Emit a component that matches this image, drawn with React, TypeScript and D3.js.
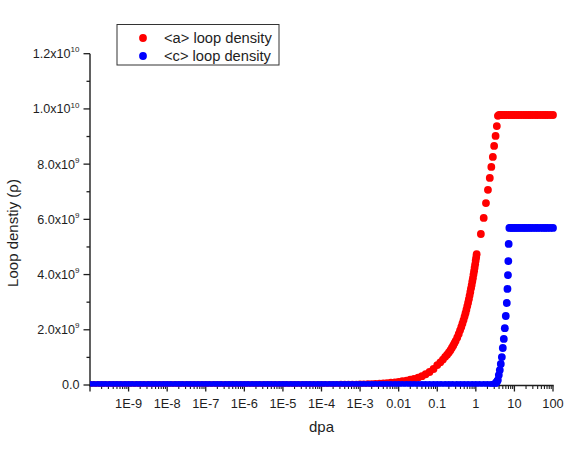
import React from 'react';
import * as d3 from 'd3';

// shared low-dose sweep (dpa), 1e-10 .. 0.08
const sweepDpa = [
  1e-10, 1.25e-10, 1.6e-10, 2e-10, 2.5e-10, 3.2e-10, 4e-10, 5e-10, 6.3e-10, 8e-10,
  1e-9, 1.25e-9, 1.6e-9, 2e-9, 2.5e-9, 3.2e-9, 4e-9, 5e-9, 6.3e-9, 8e-9,
  1e-8, 1.25e-8, 1.6e-8, 2e-8, 2.5e-8, 3.2e-8, 4e-8, 5e-8, 6.3e-8, 8e-8,
  1e-7, 1.25e-7, 1.6e-7, 2e-7, 2.5e-7, 3.2e-7, 4e-7, 5e-7, 6.3e-7, 8e-7,
  1e-6, 1.25e-6, 1.6e-6, 2e-6, 2.5e-6, 3.2e-6, 4e-6, 5e-6, 6.3e-6, 8e-6,
  1e-5, 1.25e-5, 1.6e-5, 2e-5, 2.5e-5, 3.2e-5, 4e-5, 5e-5, 6.3e-5, 8e-5,
  1e-4, 1.25e-4, 1.6e-4, 2e-4, 2.5e-4, 3.2e-4, 4e-4, 5e-4, 6.3e-4, 8e-4,
  1e-3, 1.25e-3, 1.6e-3, 2e-3, 2.5e-3, 3.2e-3, 4e-3, 5e-3, 6.3e-3, 8e-3,
  0.01, 0.0125, 0.016, 0.02, 0.025, 0.032, 0.04, 0.05, 0.063, 0.08,
];

// <a> loop density, units of 1e9
const aSweepDensity = [
  0, 0, 0, 0, 0, 0, 0, 0, 0, 0,
  0, 0, 0, 0, 0, 0, 0, 0, 0, 0,
  0, 0, 0, 0, 0, 0, 0, 0, 0, 0,
  0, 0, 0, 0, 0, 0, 0, 0, 0, 0,
  0, 0, 0, 0, 0, 0, 0, 0, 0, 0,
  0, 0, 0, 0, 0, 0, 0, 0, 0, 0,
  0.003, 0.004, 0.005, 0.006, 0.007, 0.009, 0.011, 0.013, 0.015, 0.017,
  0.02, 0.024, 0.029, 0.034, 0.04, 0.048, 0.057, 0.068, 0.082, 0.098,
  0.115, 0.135, 0.16, 0.19, 0.225, 0.27, 0.32, 0.39, 0.47, 0.58,
];
const aTailDpa = [
  0.1, 0.12, 0.14, 0.16, 0.18, 0.2, 0.22, 0.24, 0.26, 0.28, 0.3, 0.33,
  0.36, 0.39, 0.42, 0.45, 0.48, 0.51, 0.54, 0.57, 0.6, 0.63, 0.66, 0.69,
  0.72, 0.75, 0.78, 0.81, 0.84, 0.87, 0.9, 0.93, 0.96, 0.99, 1.02, 1.05,
  1.35, 1.6, 1.83, 2.06, 2.3, 2.52, 2.76, 2.98, 3.25, 3.5, 3.74,
  4.0, 4.4, 4.9, 5.5, 6.2, 7, 8, 9, 10, 11.5, 13, 15, 17.5, 20, 23, 26, 30,
  35, 40, 47, 55, 63, 72, 85, 100,
];
const aTailDensity = [
  0.72, 0.82, 0.92, 1.02, 1.1, 1.18, 1.26, 1.35, 1.43, 1.52, 1.6, 1.72,
  1.85, 1.98, 2.1, 2.23, 2.35, 2.48, 2.6, 2.73, 2.86, 2.98, 3.11, 3.24,
  3.37, 3.5, 3.62, 3.75, 3.87, 4.0, 4.12, 4.25, 4.37, 4.5, 4.62, 4.74,
  5.47, 6.05, 6.59, 7.07, 7.5, 7.9, 8.26, 8.66, 9.02, 9.38, 9.75,
  9.78, 9.78, 9.78, 9.78, 9.78, 9.78, 9.78, 9.78, 9.78, 9.78, 9.78, 9.78, 9.78,
  9.78, 9.78, 9.78, 9.78, 9.78, 9.78, 9.78, 9.78, 9.78, 9.78, 9.78, 9.78,
];

// <c> loop density, units of 1e9
const cSweepDensity = [
  0, 0, 0, 0, 0, 0, 0, 0, 0, 0,
  0, 0, 0, 0, 0, 0, 0, 0, 0, 0,
  0, 0, 0, 0, 0, 0, 0, 0, 0, 0,
  0, 0, 0, 0, 0, 0, 0, 0, 0, 0,
  0, 0, 0, 0, 0, 0, 0, 0, 0, 0,
  0, 0, 0, 0, 0, 0, 0, 0, 0, 0,
  0, 0, 0, 0, 0, 0, 0, 0, 0, 0,
  0, 0, 0, 0, 0, 0, 0, 0, 0, 0,
  0, 0, 0, 0, 0, 0, 0, 0, 0, 0,
];
const cTailDpa = [
  0.1, 0.125, 0.16, 0.2, 0.25, 0.32, 0.4, 0.5, 0.63, 0.8,
  1, 1.25, 1.6, 2, 2.5, 2.8,
  3.0, 3.2, 3.4, 3.55, 3.72, 3.94, 4.18, 4.44, 4.72, 5.0, 5.31, 5.64, 5.98,
  6.35, 6.6, 6.8, 6.95, 7.1,
  7.4, 8, 9, 10, 11, 12.5, 14, 16, 18, 20, 23, 26, 30, 35, 40, 47, 55, 63,
  72, 85, 100,
];
const cTailDensity = [
  0, 0, 0, 0, 0, 0, 0, 0, 0, 0,
  0, 0, 0, 0, 0, 0,
  0.02, 0.05, 0.09, 0.13, 0.18, 0.36, 0.54, 0.76, 1.01, 1.34, 1.67, 2.06, 2.5,
  2.97, 3.48, 3.98, 4.49, 5.11,
  5.69, 5.69, 5.69, 5.69, 5.69, 5.69, 5.69, 5.69, 5.69, 5.69, 5.69, 5.69, 5.69,
  5.69, 5.69, 5.69, 5.69, 5.69, 5.69, 5.69, 5.69,
];

const xTickValues = [1e-9, 1e-8, 1e-7, 1e-6, 1e-5, 1e-4, 1e-3, 0.01, 0.1, 1, 10, 100];
const xTickLabels = ['1E-9', '1E-8', '1E-7', '1E-6', '1E-5', '1E-4', '1E-3', '0.01', '0.1', '1', '10', '100'];
const yTickValues = [0, 2, 4, 6, 8, 10, 12];
const yTickLabels = ['0.0', '2.0x10', '4.0x10', '6.0x10', '8.0x10', '1.0x10', '1.2x10'];
const yTickExps = ['', '9', '9', '9', '9', '10', '10'];
const seriesNames = ['<a> loop density', '<c> loop density'];
const seriesColors = ['#ff0000', '#0000ff'];

const zip = (xs: number[], ys: number[]) =>
  xs.slice(0, Math.min(xs.length, ys.length)).map((d, i) => [d, ys[i]]);

const FONT = '"Liberation Sans", Arial, sans-serif';
const INK = '#1e1e1e';

export default function App() {
  const x = d3.scaleLog().domain([1e-10, 100]).range([90, 553]);
  const y = d3.scaleLinear().domain([0, 12]).range([385, 53.7]);

  const red = zip([...sweepDpa, ...aTailDpa], [...aSweepDensity, ...aTailDensity]);
  const blue = zip([...sweepDpa, ...cTailDpa], [...cSweepDensity, ...cTailDensity]);

  const decades = d3.range(-10, 2).map((e) => Math.pow(10, e));
  const xMinor = decades.flatMap((d) => d3.range(2, 10).map((k) => k * d));
  const yMinor = [1, 3, 5, 7, 9, 11];
  const y0 = y(0) + 0.5;
  const r = 3.9;

  return (
    <svg width={569} height={450} style={{ position: 'absolute', left: 0, top: 0, background: '#fff' }}
      fontFamily={FONT}>
      <defs>
        <clipPath id="plotClip">
          <rect x={90} y={0} width={479} height={y0 + 1} />
        </clipPath>
      </defs>

      {/* y axis */}
      <line x1={90} x2={90} y1={y(12)} y2={y0 + 0.7} stroke={INK} strokeWidth={1.4} />
      {yTickValues.map((v) => (
        <line key={'ym' + v} x1={83.5} x2={90} y1={y(v)} y2={y(v)} stroke={INK} strokeWidth={1.3} />
      ))}
      {yMinor.map((v) => (
        <line key={'yn' + v} x1={86.5} x2={90} y1={y(v)} y2={y(v)} stroke={INK} strokeWidth={1.3} />
      ))}
      {yTickValues.map((v, i) => (
        <text key={'yl' + v} x={79.5} y={y(v) + 4.4} textAnchor="end" fontSize={12.6} fill={INK}>
          {yTickLabels[i]}
          {yTickExps[i] && <tspan fontSize={8} dy={-5.8}>{yTickExps[i]}</tspan>}
        </text>
      ))}
      <text transform={`translate(17.5,233) rotate(-90)`} textAnchor="middle" fontSize={15} fill={INK}>
        Loop denstiy (ρ)
      </text>

      {/* x axis */}
      <line x1={89.3} x2={553.7} y1={y0} y2={y0} stroke={INK} strokeWidth={1.4} />
      {[1e-10, ...xTickValues].map((v) => (
        <line key={'xm' + v} x1={x(v)} x2={x(v)} y1={y0} y2={y0 + 6} stroke={INK} strokeWidth={1.3} />
      ))}
      {xMinor.map((v) => (
        <line key={'xn' + v} x1={x(v)} x2={x(v)} y1={y0} y2={y0 + 3.5} stroke={INK} strokeWidth={1.1} />
      ))}
      {xTickValues.map((v, i) => (
        <text key={'xl' + v} x={x(v)} y={407.5} textAnchor="middle" fontSize={12.8} fill={INK}>
          {xTickLabels[i]}
        </text>
      ))}
      <text x={321.5} y={432} textAnchor="middle" fontSize={15} fill={INK}>dpa</text>

      {/* series */}
      <g clipPath="url(#plotClip)">
        {red.map(([d, v], i) => (
          <circle key={'a' + i} cx={x(d)} cy={y(v)} r={r} fill={seriesColors[0]} />
        ))}
        {blue.map(([d, v], i) => (
          <circle key={'c' + i} cx={x(d)} cy={y(v)} r={r} fill={seriesColors[1]} />
        ))}
      </g>

      {/* legend */}
      <rect x={117} y={24.5} width={162} height={40.5} fill="#fff" stroke="#333" strokeWidth={1} />
      {seriesNames.map((name, i) => (
        <g key={name}>
          <circle cx={143} cy={38 + i * 18} r={3.9} fill={seriesColors[i]} />
          <text x={164} y={43 + i * 18} fontSize={14.7} fill={INK}>{name}</text>
        </g>
      ))}
    </svg>
  );
}
